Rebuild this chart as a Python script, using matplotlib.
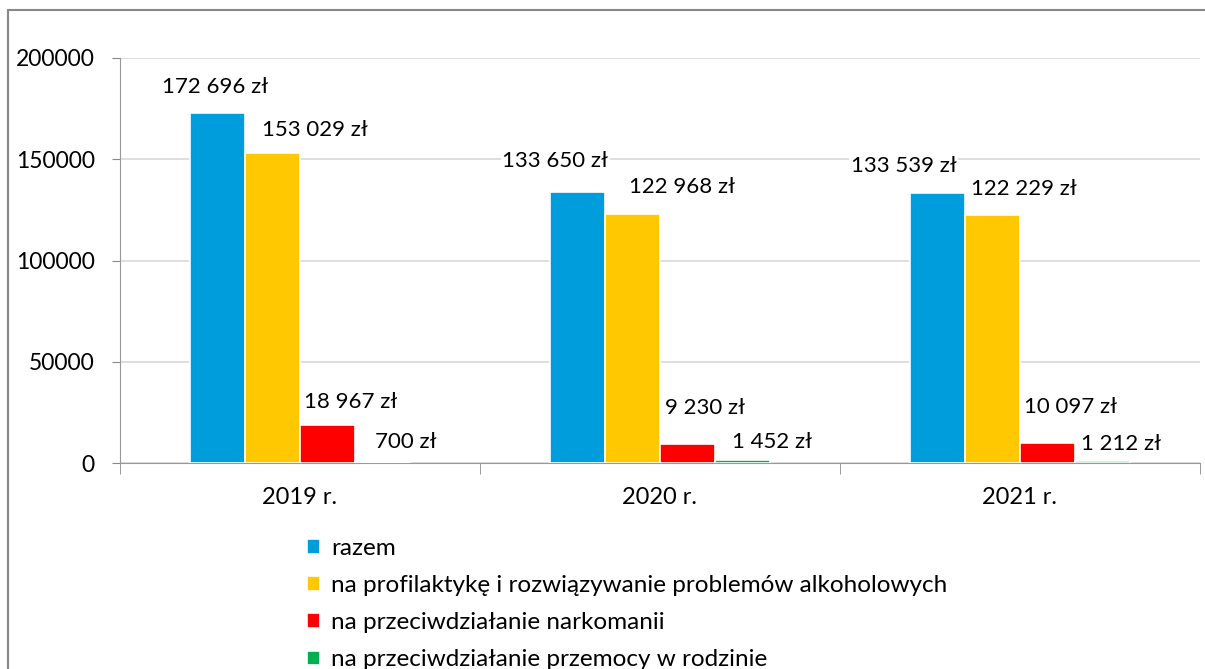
import matplotlib.pyplot as plt
import numpy as np
from matplotlib.patches import Rectangle

# data
years = ['2019 r.', '2020 r.', '2021 r.']
series = ['razem',
          'na profilaktykę i rozwiązywanie problemów alkoholowych',
          'na przeciwdziałanie narkomanii',
          'na przeciwdziałanie przemocy w rodzinie']
razem = [172696, 133650, 133539]
alkohol = [153029, 122968, 122229]
narkomania = [18967, 9230, 10097]
przemoc = [700, 1452, 1212]
colors = ['#009ddc', '#ffc800', '#ff0000', '#00b050']

# label offsets in pixels (dx, dy) per series per year
label_dx = [[-2, -22, -34], [42, 50, 31], [23, 17, 23], [23, 29, 18]]
label_dy = [[26, 31, 27], [23, 27, 26], [23, 36, 36], [20, 18, 17]]

plt.rcParams['font.family'] = ['Lato', 'DejaVu Sans']
fs = 16

fig = plt.figure(figsize=(12.05, 6.69), dpi=100)
ax = fig.add_axes([120/1205, 1-463/669, 1080/1205, 405/669])

vals = [razem, alkohol, narkomania, przemoc]
x = np.arange(len(years))
w = 0.153
for i, (v, c) in enumerate(zip(vals, colors)):
    pos = x + (i - 1.5) * w
    ax.bar(pos, v, w, color=c, edgecolor='white', linewidth=1.2, label=series[i], zorder=3)
    for j in range(len(years)):
        txt = f'{v[j]:,} zł'.replace(',', ' ')
        ax.annotate(txt, (pos[j], v[j]), xytext=(label_dx[i][j], label_dy[i][j]),
                    textcoords='offset pixels', ha='center', va='center', fontsize=fs,
                    bbox=dict(facecolor='white', edgecolor='none', pad=1), zorder=4)

ax.set_xlim(-0.5, 2.5)
ax.set_ylim(0, 200000)
ax.set_yticks([0, 50000, 100000, 150000, 200000])
ax.set_yticklabels(['0', '50000', '100000', '150000', '200000'], fontsize=16.5)
ax.set_xticks(x)
ax.set_xticklabels(years, fontsize=17)
ax.set_xticks([-0.5, 0.5, 1.5, 2.5], minor=True)
ax.tick_params(axis='x', which='major', length=0, pad=17)
ax.tick_params(axis='x', which='minor', length=8, color='#888888')
ax.tick_params(axis='y', length=6, color='#888888', pad=12)
ax.grid(axis='y', color='#d9d9d9', linewidth=1.2, zorder=0)
for s in ['top', 'right']:
    ax.spines[s].set_visible(False)
for s in ['left', 'bottom']:
    ax.spines[s].set_color('#999999')

ax.legend(loc='upper left', bbox_to_anchor=(295/1205, 1-526/669), bbox_transform=fig.transFigure,
          frameon=False, fontsize=17.5, handlelength=0.53, handleheight=0.53, handletextpad=0.45,
          labelspacing=0.66, borderpad=0)

fig.patches.append(Rectangle((8/1205, -0.1), 1.2, 1-10/669+0.1, transform=fig.transFigure,
                             fill=False, edgecolor='#888888', linewidth=1.5))

fig.savefig('out.png', dpi=100)
